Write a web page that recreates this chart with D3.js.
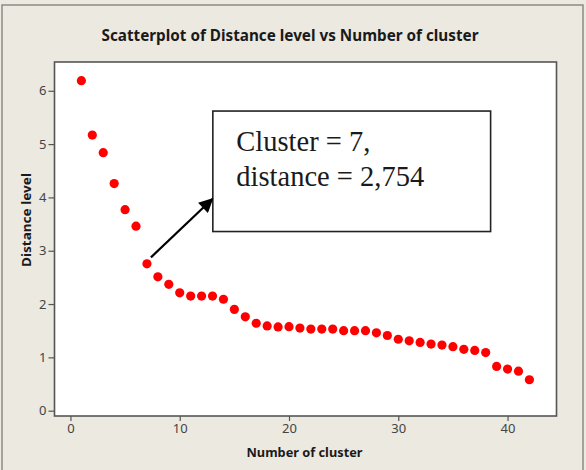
<!DOCTYPE html>
<html>
<head>
<meta charset="utf-8">
<script src="https://cdn.jsdelivr.net/npm/d3@7"></script>
<style>
  html, body { margin: 0; padding: 0; background: #ECE9E1; }
  svg { display: block; }
</style>
</head>
<body>
<svg id="chart" width="586" height="470"></svg>
<script>
// ---- data ----
const clusters = [1,2,3,4,5,6,7,8,9,10,11,12,13,14,15,16,17,18,19,20,21,22,23,24,25,26,27,28,29,30,31,32,33,34,35,36,37,38,39,40,41,42];
const distances = [6.19,5.17,4.84,4.26,3.77,3.46,2.754,2.51,2.37,2.21,2.15,2.15,2.15,2.09,1.90,1.76,1.64,1.59,1.57,1.575,1.55,1.53,1.53,1.53,1.50,1.50,1.50,1.46,1.41,1.34,1.31,1.28,1.25,1.23,1.20,1.15,1.13,1.09,0.83,0.78,0.74,0.58];
const xTicks = [0,10,20,30,40];
const yTicks = [0,1,2,3,4,5,6];
const titleText = "Scatterplot of Distance level vs Number of cluster";
const xLabel = "Number of cluster";
const yLabel = "Distance level";
const noteLines = ["Cluster = 7,", "distance = 2,754"];

const svg = d3.select("#chart");
const plot = {left: 54.5, top: 62, right: 556.5, bottom: 416};

const x = d3.scaleLinear().domain([-1.46, 44.48]).range([plot.left, plot.right]);
const y = d3.scaleLinear().domain([-0.1, 6.54]).range([plot.bottom, plot.top]);

// outer frame
svg.append("rect").attr("x", 2).attr("y", 5).attr("width", 581).attr("height", 480)
  .attr("fill", "#ECE9E1").attr("stroke", "#8a8a86").attr("stroke-width", 1.5);

// title
svg.append("text").attr("x", 290).attr("y", 40.5).attr("text-anchor", "middle")
  .attr("font-family", "'Noto Sans', 'DejaVu Sans', sans-serif").attr("font-weight", "bold")
  .attr("font-size", 15.5).attr("fill", "#1a1a1a")
  .attr("textLength", 377).attr("lengthAdjust", "spacingAndGlyphs")
  .text(titleText);

// plot area
svg.append("rect").attr("x", plot.left).attr("y", plot.top)
  .attr("width", plot.right - plot.left).attr("height", plot.bottom - plot.top)
  .attr("fill", "#ffffff").attr("stroke", "#555555").attr("stroke-width", 1.6);

// axes
const axisFont = "'Noto Sans', 'DejaVu Sans', sans-serif";
const xAxis = svg.append("g").attr("transform", `translate(0,${plot.bottom})`)
  .call(d3.axisBottom(x).tickValues(xTicks).tickFormat(d3.format("d")).tickSize(5).tickPadding(3));
const yAxis = svg.append("g").attr("transform", `translate(${plot.left},0)`)
  .call(d3.axisLeft(y).tickValues(yTicks).tickFormat(d3.format("d")).tickSize(6).tickPadding(2));
[xAxis, yAxis].forEach(a => {
  a.select(".domain").remove();
  a.selectAll(".tick line").attr("stroke", "#555555").attr("stroke-width", 1.2);
  a.selectAll(".tick text").attr("fill", "#444444").attr("font-family", axisFont).attr("font-size", 13);
});

// axis titles
svg.append("text").attr("x", 304.5).attr("y", 457).attr("text-anchor", "middle")
  .attr("font-family", axisFont).attr("font-weight", "bold").attr("font-size", 12.5).attr("fill", "#1a1a1a")
  .attr("textLength", 116).attr("lengthAdjust", "spacingAndGlyphs")
  .text(xLabel);
svg.append("text").attr("transform", "translate(30.5,220) rotate(-90)").attr("text-anchor", "middle")
  .attr("font-family", axisFont).attr("font-weight", "bold").attr("font-size", 12.5).attr("fill", "#1a1a1a")
  .attr("textLength", 94).attr("lengthAdjust", "spacingAndGlyphs")
  .text(yLabel);

// points
svg.append("g").selectAll("circle")
  .data(clusters.map((c, i) => ({c, d: distances[i]})))
  .join("circle")
  .attr("cx", p => x(p.c)).attr("cy", p => y(p.d))
  .attr("r", 4.6).attr("fill", "#ff0000");

// annotation box (placed in data coordinates)
const box = {x0: 13.03, x1: 38.45, y0: 5.62, y1: 3.36};
svg.append("rect").attr("x", x(box.x0)).attr("y", y(box.y0))
  .attr("width", x(box.x1) - x(box.x0)).attr("height", y(box.y1) - y(box.y0))
  .attr("fill", "#ffffff").attr("stroke", "#222222").attr("stroke-width", 1.6);
svg.append("text").attr("x", x(box.x0) + 23.5).attr("y", y(box.y0) + 40)
  .attr("font-family", "'Liberation Serif', 'Times New Roman', serif").attr("font-size", 28.5).attr("fill", "#1a1a1a")
  .selectAll("tspan").data(noteLines).join("tspan")
  .attr("x", x(box.x0) + 23.5).attr("dy", (d, i) => i === 0 ? 0 : 34.5).text(d => d);

// arrow from cluster 7 to the box
const defs = svg.append("defs");
defs.append("marker").attr("id", "ah").attr("viewBox", "0 0 10 10").attr("refX", 9).attr("refY", 5)
  .attr("markerWidth", 7.5).attr("markerHeight", 6.5).attr("markerUnits", "strokeWidth").attr("orient", "auto")
  .append("path").attr("d", "M0,0 L10,5 L0,10 Z").attr("fill", "#000");
const p7 = {c: clusters[6], d: distances[6]};
svg.append("line")
  .attr("x1", x(p7.c) + 4).attr("y1", y(p7.d) - 6.5)
  .attr("x2", x(box.x0) - 0.5).attr("y2", y(3.97))
  .attr("stroke", "#000").attr("stroke-width", 2.2).attr("marker-end", "url(#ah)");
</script>
</body>
</html>
